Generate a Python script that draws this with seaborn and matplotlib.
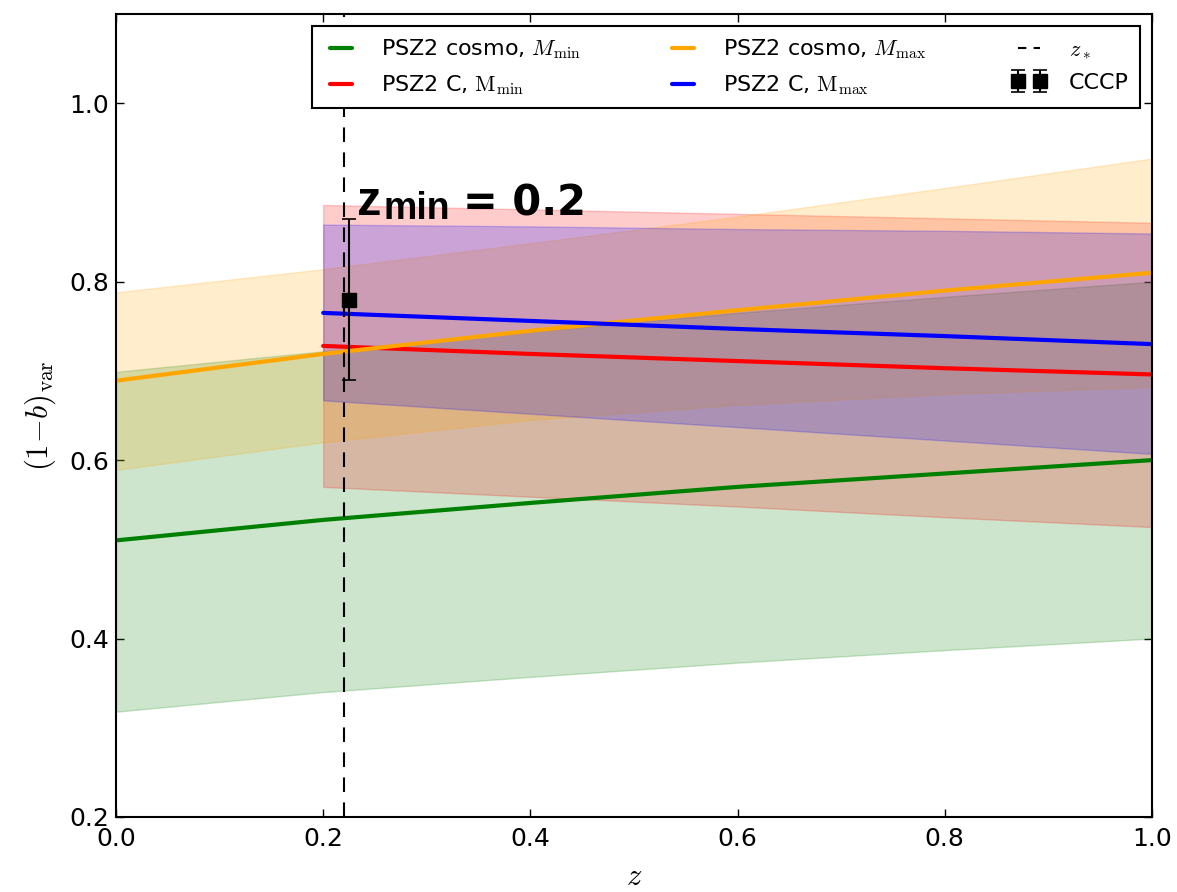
import numpy as np
import pandas as pd
import matplotlib
matplotlib.use("Agg")
import matplotlib.pyplot as plt
from matplotlib.lines import Line2D
import seaborn as sns

# Redshift grids
z_full = [0.0, 0.2, 0.4, 0.6, 0.8, 1.0]
z_cut = [0.2, 0.4, 0.6, 0.8, 1.0]

# PSZ2 cosmo, M_min
cosmo_min_mid = [0.510, 0.533, 0.552, 0.570, 0.585, 0.600]
cosmo_min_lo = [0.318, 0.340, 0.357, 0.373, 0.387, 0.400]
cosmo_min_hi = [0.699, 0.722, 0.744, 0.765, 0.783, 0.800]

# PSZ2 cosmo, M_max
cosmo_max_mid = [0.689, 0.719, 0.745, 0.768, 0.790, 0.810]
cosmo_max_lo = [0.589, 0.620, 0.645, 0.662, 0.674, 0.682]
cosmo_max_hi = [0.788, 0.814, 0.843, 0.873, 0.905, 0.938]

# PSZ2 C, M_min (z >= 0.2)
c_min_mid = [0.728, 0.719, 0.711, 0.703, 0.696]
c_min_lo = [0.570, 0.559, 0.548, 0.536, 0.525]
c_min_hi = [0.886, 0.881, 0.876, 0.871, 0.866]

# PSZ2 C, M_max (z >= 0.2)
c_max_mid = [0.765, 0.756, 0.747, 0.739, 0.730]
c_max_lo = [0.667, 0.652, 0.637, 0.622, 0.607]
c_max_hi = [0.864, 0.862, 0.859, 0.857, 0.854]

# CCCP measurement and pivot redshift
cccp_z = [0.225]
cccp_val = [0.78]
cccp_err = [0.09]
z_star = 0.22

labels = [
    r"PSZ2 cosmo, $M_{\rm min}$",
    r"PSZ2 C, $\rm M_{min}$",
    r"PSZ2 cosmo, $M_{\rm max}$",
    r"PSZ2 C, $\rm M_{max}$",
    r"$z_*$",
    "CCCP",
]

sns.set_theme(style="ticks")
plt.rcParams.update({
    "font.family": ["DejaVu Sans"],
    "mathtext.fontset": "cm",
    "text.color": "black",
    "axes.labelcolor": "black",
    "axes.edgecolor": "black",
    "axes.linewidth": 1.5,
    "xtick.color": "black",
    "ytick.color": "black",
})

W, H = 1177, 892
fig = plt.figure(figsize=(W / 100, H / 100), dpi=100)
ax = fig.add_axes([116 / W, 1 - 817 / H, (1152 - 116) / W, (817 - 14) / H])

series = [
    (z_full, cosmo_min_mid, cosmo_min_lo, cosmo_min_hi, "green"),
    (z_cut, c_min_mid, c_min_lo, c_min_hi, "red"),
    (z_full, cosmo_max_mid, cosmo_max_lo, cosmo_max_hi, "orange"),
    (z_cut, c_max_mid, c_max_lo, c_max_hi, "blue"),
]

# Uncertainty bands
for zz, mid, lo, hi, col in series:
    ax.fill_between(zz, lo, hi, facecolor=col, edgecolor=col, alpha=0.2, linewidth=1, zorder=1)

# Central relations
handles = []
for (zz, mid, lo, hi, col), lab in zip(series, labels[:4]):
    df = pd.DataFrame({"z": zz, "b": mid})
    sns.lineplot(data=df, x="z", y="b", color=col, linewidth=3, ax=ax, zorder=2, sort=False)
    handles.append(ax.lines[-1])

ax.axvline(z_star, color="black", linestyle=(0, (7, 5)), linewidth=1.5, zorder=3)
handles.append(Line2D([], [], color="black", linestyle=(0, (4, 3.5)), linewidth=1.5))

eb = ax.errorbar(cccp_z, cccp_val, yerr=cccp_err, fmt="s", color="black", markersize=10,
                 capsize=5, elinewidth=1.5, capthick=1.2, zorder=4)
handles.append(eb)

ax.set_xlim(0, 1)
ax.set_ylim(0.2, 1.1)
ax.set_xticks(np.arange(0, 1.01, 0.2))
ax.set_yticks(np.arange(0.2, 1.01, 0.2))
ax.set_xticklabels([f"{v:.1f}" for v in np.arange(0, 1.01, 0.2)])
ax.set_yticklabels([f"{v:.1f}" for v in np.arange(0.2, 1.01, 0.2)])
ax.tick_params(direction="in", length=6, width=1, top=True, right=True, labelsize=18)
ax.tick_params(axis="x", pad=7)
ax.tick_params(axis="y", pad=5)
for sp in ax.spines.values():
    sp.set_visible(True)
    sp.set_color("black")
    sp.set_linewidth(1.5)

ax.set_xlabel(r"$z$", fontsize=22, labelpad=8)
ax.set_ylabel(r"$(1\!-\!b)_{\rm var}$", fontsize=22, labelpad=8)

leg = ax.legend(handles, labels, ncol=3, loc="upper right", fontsize=16, numpoints=2,
                handlelength=1.6, handletextpad=1.0, columnspacing=3.8, labelspacing=0.55,
                borderaxespad=0.55, fancybox=False, framealpha=1, borderpad=0.5)
leg.get_frame().set_edgecolor("black")
leg.get_frame().set_linewidth(1.5)
leg.set_zorder(10)

# Minimum-redshift annotation
fig.text(357 / W, 1 - 215 / H, "z", fontsize=35, fontweight="bold",
         family="Liberation Sans", va="baseline", ha="left", color="black")
fig.text(384 / W, 1 - 219 / H, "min", fontsize=27, fontweight="bold",
         family="Liberation Sans", va="baseline", ha="left", color="black")
fig.text(463 / W, 1 - 215 / H, "= 0.2", fontsize=30, fontweight="bold",
         family="DejaVu Sans", va="baseline", ha="left", color="black")

fig.savefig("out.png", dpi=100)
